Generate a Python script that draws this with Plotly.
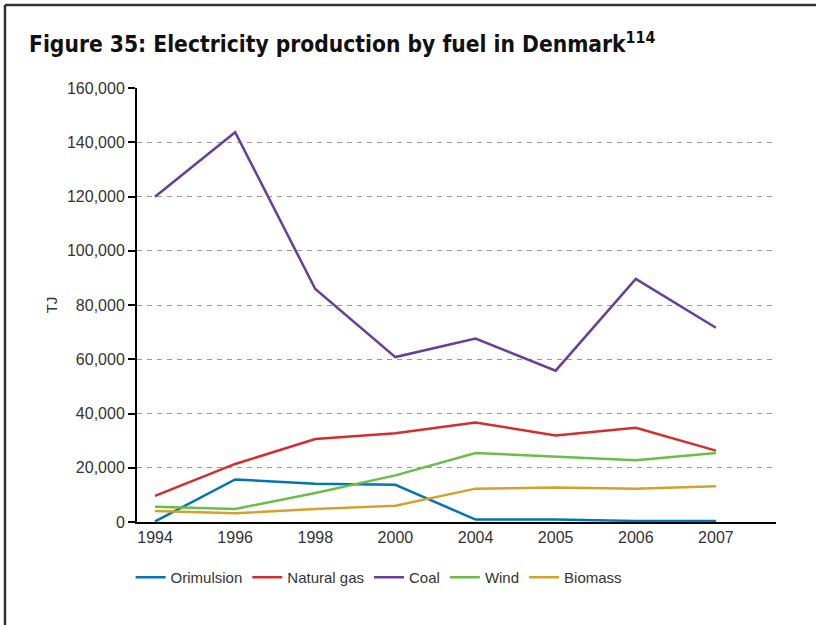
import plotly.graph_objects as go

years = ['1994', '1996', '1998', '2000', '2004', '2005', '2006', '2007']

orimulsion = [200, 15700, 14100, 13700, 900, 900, 400, 400]
natural_gas = [9600, 21400, 30600, 32700, 36700, 31900, 34700, 26300]
coal = [119900, 143700, 85900, 60800, 67600, 55800, 89600, 71600]
wind = [5600, 4800, 10700, 17200, 25400, 24100, 22800, 25400]
biomass = [4100, 3200, 4800, 6000, 12300, 12700, 12300, 13200]

series = [
    ('Orimulsion', orimulsion, 'rgb(0,118,183)'),
    ('Natural gas', natural_gas, 'rgb(211,45,45)'),
    ('Coal', coal, 'rgb(104,62,156)'),
    ('Wind', wind, 'rgb(104,190,70)'),
    ('Biomass', biomass, 'rgb(214,160,44)'),
]

fig = go.Figure()
for name, vals, col in series:
    fig.add_trace(go.Scatter(x=years, y=vals, name=name, mode='lines',
                             line=dict(color=col, width=2.5)))

txt = '#333333'
fig.update_layout(
    width=816, height=625,
    paper_bgcolor='white', plot_bgcolor='white',
    margin=dict(l=137, r=40, t=88, b=103),
    font=dict(family='Liberation Sans, Arial, sans-serif', size=16, color=txt),
    showlegend=True,
    legend=dict(orientation='h', x=-0.01, xanchor='left', y=-0.09, yanchor='top',
                font=dict(size=15, color=txt)),
    xaxis=dict(type='category', range=[-0.225, 7.75], showgrid=False,
               showline=True, linecolor='black', linewidth=2, ticks='',
               tickfont=dict(size=16, color=txt)),
    yaxis=dict(range=[0, 160000], dtick=20000, tickformat=',',
               showgrid=True, gridcolor='#9a9a9a', gridwidth=1, griddash='5px,5px',
               zeroline=False, showline=True, linecolor='black', linewidth=2,
               ticks='outside', ticklen=7, tickwidth=2, tickcolor='black',
               title=dict(text='TJ', standoff=6, font=dict(size=15, color=txt)),
               tickfont=dict(size=16, color=txt)),
)

# frame lines (top and left) and title
fig.add_shape(type='line', xref='paper', yref='paper', x0=-0.2066, x1=1.0626, y0=1.1912, y1=1.1912,
              line=dict(color='#333333', width=2.5))
fig.add_shape(type='line', xref='paper', yref='paper', x0=-0.2066, x1=-0.2066, y0=1.1912, y1=-0.2373,
              line=dict(color='#333333', width=2.5))
fig.add_annotation(xref='paper', yref='paper', x=-0.1722, y=1.105, xanchor='left', yanchor='middle',
                   showarrow=False,
                   text='<b>Figure 35: Electricity production by fuel in Denmark<sup>114</sup></b>',
                   font=dict(family='Liberation Sans Narrow, DejaVu Sans Condensed, sans-serif',
                             size=22.6, color='#111111'))

fig.write_html('out.html', config={'displayModeBar': False},
               post_script="document.body.style.margin='0';"
                           "document.body.style.overflow='hidden';"
                           "document.documentElement.style.overflow='hidden';")
